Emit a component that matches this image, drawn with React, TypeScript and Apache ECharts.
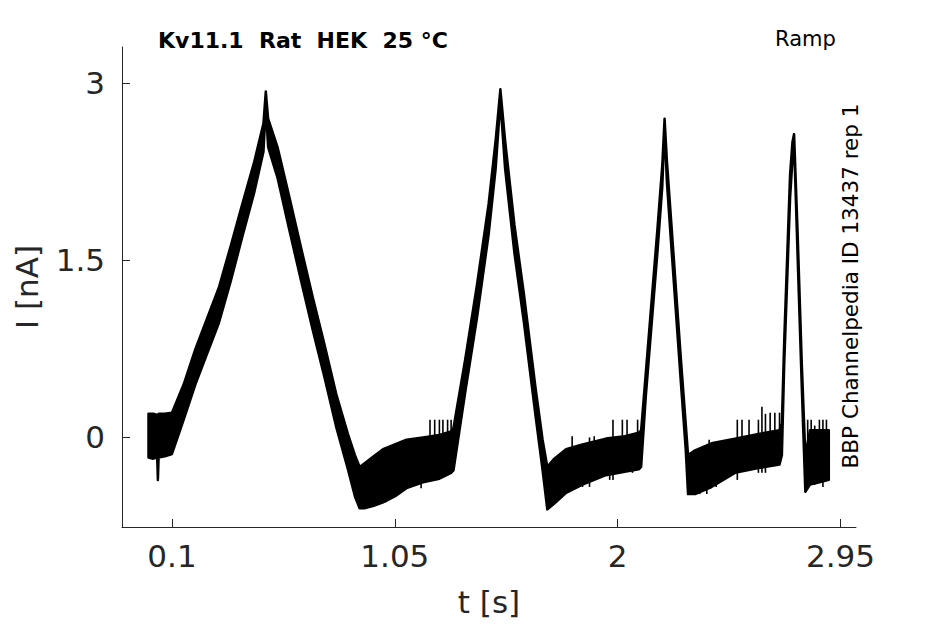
import React, { useEffect, useRef } from "react";
import * as echarts from "echarts";

// Time (s) at which the noise envelope of the current trace was read
const timeS = [
  0.0, 0.02, 0.037, 0.04, 0.043, 0.07, 0.1, 0.15, 0.2, 0.25, 0.3, 0.35, 0.4, 0.45, 0.49, 0.5,
  0.51, 0.55, 0.6, 0.65, 0.7, 0.75, 0.8, 0.85, 0.88, 0.9, 0.92, 0.96, 1.0, 1.05, 1.1, 1.17,
  1.24, 1.29, 1.3, 1.35, 1.4, 1.45, 1.48, 1.5, 1.52, 1.56, 1.6, 1.65, 1.68, 1.7, 1.73, 1.78,
  1.85, 1.95, 2.03, 2.09, 2.1, 2.12, 2.17, 2.19, 2.2, 2.21, 2.23, 2.27, 2.29, 2.3, 2.33, 2.4,
  2.5, 2.6, 2.69, 2.7, 2.71, 2.735, 2.745, 2.752, 2.767, 2.785, 2.8, 2.82, 2.86, 2.9,
];
// Lower edge of the trace (nA)
const lowerNA = [
  -0.17, -0.18, -0.17, -0.36, -0.17, -0.16, -0.14, 0.15, 0.45, 0.71, 0.97, 1.32, 1.7, 2.07, 2.42, 2.8,
  2.46, 2.2, 1.76, 1.33, 0.91, 0.51, 0.09, -0.27, -0.5, -0.6, -0.6, -0.58, -0.55, -0.5, -0.43, -0.38,
  -0.35, -0.3, -0.28, 0.38, 1.01, 1.72, 2.28, 2.85, 2.28, 1.56, 0.98, 0.18, -0.28, -0.61, -0.56, -0.47,
  -0.4, -0.32, -0.29, -0.27, -0.25, 0.35, 1.58, 2.12, 2.62, 2.16, 1.58, 0.45, -0.1, -0.48, -0.48, -0.42,
  -0.3, -0.26, -0.23, -0.15, 0.62, 2.03, 2.35, 2.5, 1.54, 0.42, -0.46, -0.4, -0.38, -0.36,
];
// Upper edge of the trace (nA)
const upperNA = [
  0.2, 0.2, 0.19, 0.19, 0.2, 0.2, 0.21, 0.45, 0.75, 1.01, 1.27, 1.62, 1.98, 2.33, 2.66, 2.93,
  2.7, 2.46, 2.04, 1.61, 1.19, 0.79, 0.37, 0.03, -0.15, -0.25, -0.22, -0.16, -0.1, -0.06, -0.02, 0.0,
  0.02, 0.05, 0.08, 0.66, 1.29, 1.98, 2.52, 2.95, 2.52, 1.8, 1.22, 0.42, -0.02, -0.25, -0.18, -0.1,
  -0.06, -0.01, 0.01, 0.04, 0.06, 0.55, 1.78, 2.3, 2.7, 2.34, 1.78, 0.65, 0.12, -0.15, -0.11, -0.05,
  -0.01, 0.03, 0.06, 0.12, 0.82, 2.23, 2.5, 2.57, 1.74, 0.62, -0.15, 0.06, 0.06, 0.06,
];

// Isolated noise excursions visible as thin vertical strokes
const spikeTimeS = [
  1.013, 1.162, 1.209, 1.2, 1.22, 1.24, 1.255, 1.275, 1.29,
  1.73, 1.76, 1.806, 1.85, 1.88, 1.9, 1.966, 1.98, 2.02, 2.04, 2.063, 2.085,
  2.35, 2.38, 2.39, 2.42, 2.51, 2.53, 2.56, 2.6, 2.615, 2.63, 2.65, 2.67, 2.69,
  2.81, 2.825, 2.84, 2.86, 2.875, 2.89,
];
const spikeLowNA = [
  -0.55, -0.43, -0.37, -0.1, -0.1, -0.1, -0.1, -0.1, -0.1,
  -0.55, -0.51, -0.2, -0.42, -0.42, -0.2, -0.36, -0.36, -0.1, -0.1, -0.3, -0.1,
  -0.48, -0.48, -0.2, -0.42, -0.36, -0.1, -0.1, -0.3, -0.3, -0.3, -0.1, -0.1, -0.1,
  -0.42, -0.2, -0.4, -0.2, -0.42, -0.3,
];
const spikeHighNA = [
  -0.3, -0.2, -0.2, 0.15, 0.15, 0.15, 0.15, 0.15, 0.15,
  -0.3, -0.3, 0.01, -0.2, 0.0, 0.01, -0.1, 0.15, 0.15, 0.15, -0.1, 0.15,
  -0.2, -0.2, -0.02, -0.2, 0.15, 0.15, 0.15, 0.15, 0.26, 0.2, 0.21, 0.21, 0.21,
  0.15, 0.15, 0.1, 0.15, 0.15, 0.15,
];

const xTicks = [0.1, 1.05, 2, 2.95];
const yTicks = [0, 1.5, 3];

const titleText = "Kv11.1  Rat  HEK  25 °C";
const protocolText = "Ramp";
const sourceText = "BBP Channelpedia ID 13437 rep 1";
const xName = "t [s]";
const yName = "I [nA]";

export default function App() {
  const ref = useRef<HTMLDivElement>(null);

  useEffect(() => {
    document.body.style.margin = "0";
    const chart = echarts.init(ref.current as HTMLDivElement, null, { renderer: "svg" });
    const axisColor = "#262626";
    const font = "DejaVu Sans";

    chart.setOption({
      animation: false,
      backgroundColor: "#ffffff",
      grid: { left: 122, right: 89, top: 47, bottom: 97, containLabel: false },
      xAxis: {
        type: "value",
        min: -0.113,
        max: 3.016,
        axisLine: { show: true, onZero: false, lineStyle: { color: axisColor, width: 1 } },
        axisTick: { show: true, inside: true, length: 8, customValues: xTicks, lineStyle: { color: axisColor } },
        axisLabel: {
          customValues: xTicks,
          formatter: (v: number) => String(v),
          fontSize: 31,
          color: axisColor,
          fontFamily: font,
          margin: 13,
        },
        splitLine: { show: false },
        name: xName,
        nameLocation: "middle",
        nameGap: 59,
        nameTextStyle: { fontSize: 31, color: axisColor, fontFamily: font },
      },
      yAxis: {
        type: "value",
        min: -0.759,
        max: 3.308,
        axisLine: { show: true, onZero: false, lineStyle: { color: axisColor, width: 1 } },
        axisTick: { show: true, inside: true, length: 8, customValues: yTicks, lineStyle: { color: axisColor } },
        axisLabel: {
          customValues: yTicks,
          formatter: (v: number) => String(v),
          fontSize: 31,
          color: axisColor,
          fontFamily: font,
          margin: 17,
        },
        splitLine: { show: false },
        name: yName,
        nameLocation: "middle",
        nameGap: 80,
        nameTextStyle: { fontSize: 31, color: axisColor, fontFamily: font },
      },
      graphic: [
        {
          type: "text",
          x: 158,
          y: 40,
          style: {
            text: titleText,
            fontSize: 22,
            fontWeight: "bold",
            fontFamily: font,
            fill: "#000",
            align: "left",
            verticalAlign: "middle",
          },
        },
        {
          type: "text",
          x: 775,
          y: 39,
          style: {
            text: protocolText,
            fontSize: 21,
            fontFamily: font,
            fill: "#000",
            align: "left",
            verticalAlign: "middle",
          },
        },
        {
          type: "text",
          x: 850,
          y: 286,
          rotation: Math.PI / 2,
          style: {
            text: sourceText,
            fontSize: 21.5,
            fontFamily: font,
            fill: "#000",
            align: "center",
            verticalAlign: "middle",
          },
        },
      ],
      series: [
        {
          type: "custom",
          silent: true,
          clip: false,
          data: timeS.map((t, i) => [t, lowerNA[i], upperNA[i]]),
          encode: { x: 0, y: [1, 2] },
          renderItem: (params: any, api: any) => {
            if (params.dataIndex !== 0) return null;
            const top = timeS.map((t, i) => api.coord([t, upperNA[i]]));
            const bottom = timeS.map((t, i) => api.coord([t, lowerNA[i]])).reverse();
            return {
              type: "polygon",
              shape: { points: top.concat(bottom) },
              style: { fill: "#000", stroke: "#000", lineWidth: 2.5, lineJoin: "round" },
            };
          },
        },
        {
          type: "custom",
          silent: true,
          clip: false,
          data: spikeTimeS.map((t, i) => [t, spikeLowNA[i], spikeHighNA[i]]),
          encode: { x: 0, y: [1, 2] },
          renderItem: (params: any, api: any) => {
            const p1 = api.coord([api.value(0), api.value(1)]);
            const p2 = api.coord([api.value(0), api.value(2)]);
            return {
              type: "line",
              shape: { x1: p1[0], y1: p1[1], x2: p2[0], y2: p2[1] },
              style: { stroke: "#000", lineWidth: 1.6 },
            };
          },
        },
      ],
    });

    return () => {
      chart.dispose();
    };
  }, []);

  return <div ref={ref} style={{ width: 945, height: 624 }} />;
}
